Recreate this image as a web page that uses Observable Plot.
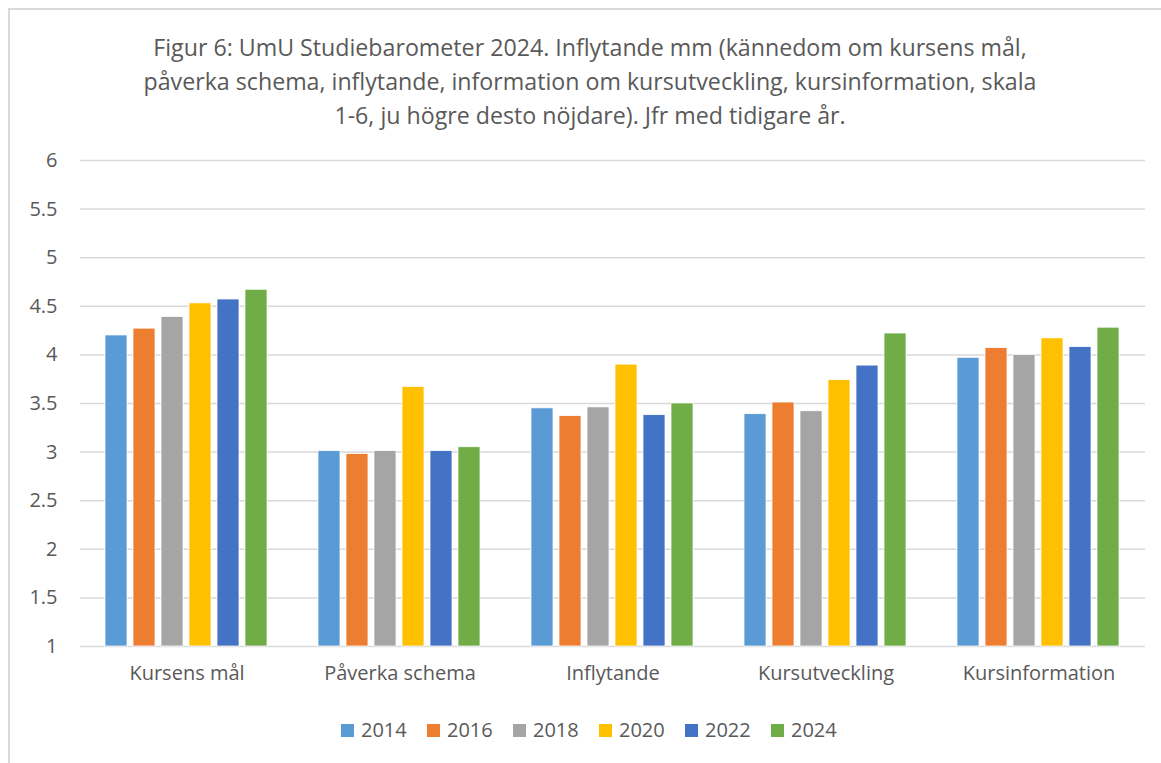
<!DOCTYPE html>
<html><head><meta charset="utf-8">
<script src="https://cdn.jsdelivr.net/npm/d3@7"></script>
<script src="https://cdn.jsdelivr.net/npm/@observablehq/plot@0.6"></script>
<style>
body{margin:0;background:#fff;overflow:hidden;width:1161px;height:763px;font-family:"Open Sans",sans-serif;position:relative;}
#frame{position:absolute;left:8px;top:8px;width:1300px;height:900px;border-left:2px solid #d9d9d9;border-top:2px solid #d9d9d9;}
#title{position:absolute;left:0;top:30px;width:1180px;text-align:center;color:#595959;font-size:23.2px;line-height:34px;}
#chart{position:absolute;left:0;top:140px;}
#legend{position:absolute;top:718px;left:341px;display:flex;color:#595959;font-size:20px;line-height:24px;}
#legend .item{display:flex;align-items:center;width:86px;}
#legend .sw{width:13px;height:13px;margin-right:7px;}
</style></head>
<body>
<div id="frame"></div>
<div id="title">Figur 6: UmU Studiebarometer 2024. Inflytande mm (kännedom om kursens mål,<br>påverka schema, inflytande, information om kursutveckling, kursinformation, skala<br>1-6, ju högre desto nöjdare). Jfr med tidigare år.</div>
<div id="chart"></div>
<div id="legend"></div>
<script>
const categories = ["Kursens mål", "Påverka schema", "Inflytande", "Kursutveckling", "Kursinformation"];
const years = ["2014", "2016", "2018", "2020", "2022", "2024"];
const colors = ["#5B9BD5", "#ED7D31", "#A5A5A5", "#FFC000", "#4472C4", "#70AD47"];
const v2014 = [4.20, 3.01, 3.45, 3.39, 3.97];
const v2016 = [4.27, 2.98, 3.37, 3.51, 4.07];
const v2018 = [4.39, 3.01, 3.46, 3.42, 4.00];
const v2020 = [4.53, 3.67, 3.90, 3.74, 4.17];
const v2022 = [4.57, 3.01, 3.38, 3.89, 4.08];
const v2024 = [4.67, 3.05, 3.50, 4.22, 4.28];
const yTicks = [1, 1.5, 2, 2.5, 3, 3.5, 4, 4.5, 5, 5.5, 6];

const series = [v2014, v2016, v2018, v2020, v2022, v2024];
const data = [];
categories.forEach((c, i) => years.forEach((y, j) => data.push({cat: c, year: y, value: series[j][i]})));

const chart = Plot.plot({
  width: 1161,
  height: 560,
  marginLeft: 79,
  marginRight: 16,
  marginTop: 20,
  marginBottom: 54,
  style: {fontFamily: "'Open Sans', sans-serif", fontSize: "20px", color: "#595959", background: "transparent"},
  fx: {domain: categories, padding: 0, axis: "bottom", tickSize: 0, tickPadding: 19, label: null},
  x: {domain: years, paddingInner: 0.2, paddingOuter: 0.81, axis: null},
  y: {domain: [1, 6], clamp: true, ticks: yTicks, tickSize: 0, tickPadding: 23, tickFormat: d => String(d), label: null},
  color: {domain: years, range: colors},
  marks: [
    Plot.ruleY(yTicks, {stroke: "#d9d9d9", strokeWidth: 1.5}),
    Plot.barY(data, {fx: "cat", x: "year", y1: 1, y2: "value", fill: "year", stroke: "white", strokeWidth: 0.75})
  ]
});
document.getElementById("chart").appendChild(chart);

const legend = document.getElementById("legend");
years.forEach((y, i) => {
  const it = document.createElement("div");
  it.className = "item";
  it.innerHTML = `<span class="sw" style="background:${colors[i]}"></span><span>${y}</span>`;
  legend.appendChild(it);
});
</script>
</body></html>
